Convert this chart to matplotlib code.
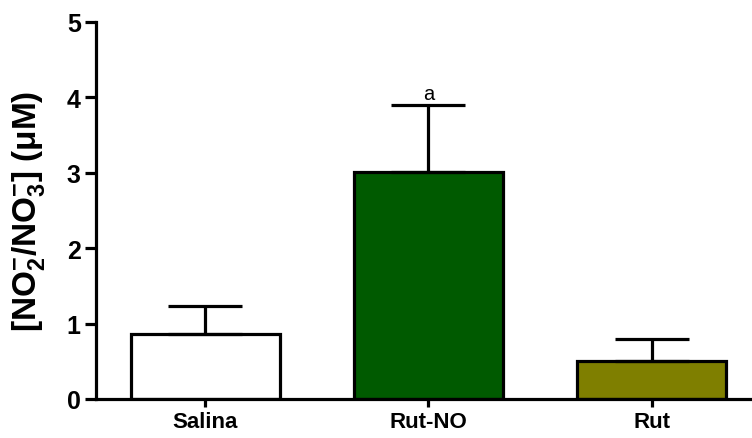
import matplotlib
matplotlib.use("Agg")
import matplotlib.pyplot as plt
from matplotlib import font_manager
import numpy as np

categories = ["Salina", "Rut-NO", "Rut"]
means = [0.86, 3.01, 0.51]
errors = [0.38, 0.89, 0.29]
colors = ["#ffffff", "#005a00", "#7f7f00"]
annotations = ["", "a", ""]
yticks = [0, 1, 2, 3, 4, 5]

try:
    font_manager.findfont(font_manager.FontProperties(family="Liberation Sans Narrow", weight="bold"),
                          fallback_to_default=False)
    label_font = "Liberation Sans Narrow"
    label_size = 28
except Exception:
    label_font = "Liberation Sans"
    label_size = 24

plt.rcParams['font.family'] = ['Liberation Sans', 'DejaVu Sans']
plt.rcParams['mathtext.fontset'] = 'custom'
plt.rcParams['mathtext.rm'] = label_font + ':bold'
plt.rcParams['mathtext.bf'] = label_font + ':bold'
plt.rcParams['mathtext.it'] = label_font + ':bold'
plt.rcParams['mathtext.default'] = 'bf'

fig = plt.figure(figsize=(7.52, 4.39), dpi=100)
ax = fig.add_axes([96/752, 39/439, 656/752, 377/439])

x = np.arange(len(categories))
lw = 2.3
ax.bar(x, means, width=0.67, color=colors, edgecolor="black", linewidth=lw, zorder=2)
for xi, m, e in zip(x, means, errors):
    ax.errorbar(xi, m, yerr=[[0], [e]], fmt="none", ecolor="black",
                elinewidth=lw, capsize=26.5, capthick=lw, zorder=3)
for xi, m, e, a in zip(x, means, errors, annotations):
    if a:
        ax.text(xi, m + e + 0.03, a, ha="center", va="bottom", fontsize=14.5,
                fontweight="normal")

ax.set_xlim(-0.49, 2.45)
ax.set_ylim(0, 5)
ax.set_yticks(yticks)
ax.set_yticklabels([str(t) for t in yticks], fontsize=18, fontweight="bold")
ax.set_xticks(x)
ax.set_xticklabels(categories, fontsize=16, fontweight="bold")
ax.spines["top"].set_visible(False)
ax.spines["right"].set_visible(False)
for s in ["left", "bottom"]:
    ax.spines[s].set_linewidth(lw)
ax.tick_params(axis="y", direction="out", length=8, width=lw, pad=3)
ax.tick_params(axis="x", direction="out", length=6, width=lw, pad=3)

fig.text(29/752, 1 - 211/439, r"[NO$_{2}^{-}$/NO$_{3}^{-}$] (μM)",
         rotation=90, ha="center", va="center", fontsize=label_size,
         fontweight="bold", family=[label_font, "Liberation Sans", "DejaVu Sans"])

fig.savefig("out.png", dpi=100)
